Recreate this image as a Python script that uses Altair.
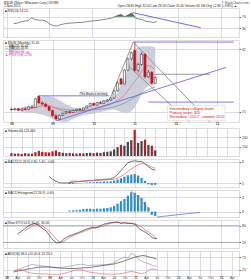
import altair as alt
import pandas as pd

# ---------------- data ----------------
months = ["Jan", "Feb", "Mar", "Apr", "May", "Jun", "Jul", "Aug", "Sep", "Oct", "Nov", "Dec"]
start_year = 8  # '08
n_slots = 66

c_open = [16.2, 15.9, 16.4, 15.6, 16.3, 16.0, 17.2, 17.0, 22.4, 19.2, 18.6, 17.4, 15.6, 13.0, 11.5,
          13.2, 14.2, 14.9, 14.6, 15.6, 16.2, 15.8, 16.8, 17.7, 18.9, 18.1, 19.3, 19.0, 20.1, 20.6,
          21.5, 25.0, 30.8, 28.3, 35.0, 40.4, 44.5, 34.9, 37.7, 42.6, 31.8, 34.0, 28.6]
c_high = [17.0, 16.8, 16.9, 16.6, 17.1, 17.5, 17.9, 21.6, 22.7, 20.0, 19.4, 17.8, 16.0, 14.0, 13.6,
          14.5, 15.2, 15.8, 15.9, 16.5, 16.9, 17.0, 18.0, 19.2, 19.5, 19.6, 20.2, 20.4, 21.0, 22.0,
          25.5, 29.5, 31.5, 35.5, 41.0, 44.0, 48.5, 38.5, 43.5, 43.0, 35.0, 34.5, 32.0]
c_low = [15.3, 15.5, 15.2, 15.1, 15.8, 15.9, 16.6, 16.8, 18.8, 18.0, 17.0, 15.2, 12.5, 10.6, 11.2,
         12.8, 13.8, 14.0, 14.3, 15.1, 15.4, 15.6, 16.5, 17.4, 17.8, 17.9, 18.7, 18.8, 19.6, 20.2,
         21.2, 24.6, 27.6, 28.0, 34.5, 39.5, 34.0, 33.8, 37.0, 30.8, 31.2, 27.6, 28.2]
c_close = [15.9, 16.4, 15.6, 16.3, 16.0, 17.2, 17.0, 21.2, 19.2, 18.6, 17.4, 15.6, 13.0, 11.5, 13.2,
           14.2, 14.9, 14.6, 15.6, 16.2, 15.8, 16.8, 17.7, 18.9, 18.1, 19.3, 19.0, 20.1, 20.6, 21.5,
           25.0, 28.8, 28.3, 35.0, 40.4, 43.4, 34.9, 37.7, 42.6, 31.8, 34.0, 28.6, 31.4]
volume = [30, 25, 28, 22, 30, 26, 24, 40, 55, 45, 40, 38, 50, 60, 42, 35, 30, 33, 28, 26, 30, 28,
          32, 35, 30, 36, 33, 40, 45, 50, 70, 95, 120, 110, 150, 170, 280, 140, 160, 175, 120, 110, 60]

ma_red = [16.0, 16.1, 16.1, 16.2, 16.3, 16.4, 16.6, 16.9, 17.4, 17.8, 18.0, 17.9, 17.4, 16.6, 15.9,
          15.4, 15.0, 14.7, 14.6, 14.7, 14.9, 15.2, 15.6, 16.0, 16.4, 16.8, 17.2, 17.6, 18.0, 18.5,
          19.3, 20.4, 21.5, 23.0, 25.0, 27.5, 29.5, 31.5, 34.5, 36.2, 37.2, 36.6, 35.0]
ma_gray_start = 12
ma_gray = [17.0, 16.8, 16.5, 16.2, 16.0, 15.8, 15.7, 15.6, 15.6, 15.6, 15.7, 15.8, 15.9, 16.0, 16.2,
           16.4, 16.6, 16.9, 17.3, 17.8, 18.4, 19.1, 19.9, 20.8, 21.9, 22.9, 23.9, 24.8, 25.6, 26.3, 26.9]
bb_start = 3
bb_up = [17.5, 17.6, 17.8, 18.2, 18.8, 21.5, 22.3, 22.5, 22.4, 22.0, 21.5, 20.5, 19.5, 18.6, 17.8,
         17.0, 16.6, 16.6, 16.8, 17.3, 18.0, 18.8, 19.5, 19.9, 20.3, 20.7, 21.2, 21.8, 24.0, 28.0,
         31.5, 35.5, 40.5, 44.5, 46.0, 46.5, 46.5, 46.5, 46.3, 46.0]
bb_lo = [14.6, 14.6, 14.5, 14.4, 14.3, 13.8, 13.5, 13.0, 12.3, 11.5, 10.8, 10.2, 10.0, 10.0, 10.6,
         11.4, 12.2, 12.8, 13.2, 13.5, 13.8, 14.0, 14.3, 14.8, 15.2, 15.6, 15.8, 16.0, 15.5, 14.8,
         14.5, 14.5, 15.0, 17.0, 20.0, 23.5, 26.0, 27.5, 28.5, 29.0]

# trendlines on price panel: (slot, price) -> (slot, price)
tl_x1 = [35.6, 8.0, 13.2, 40.0, 28.6, 35.6, 33.5, 41.6]
tl_y1 = [48.5, 22.6, 10.6, 19.6, 20.4, 48.5, 38.0, 33.0]
tl_x2 = [65.0, 28.6, 62.7, 65.0, 35.6, 58.0, 52.0, 58.0]
tl_y2 = [48.5, 22.6, 36.3, 19.6, 48.5, 10.0, 10.0, 33.0]
tl_col = ["#5a5ae6", "#5a5ae6", "#5a5ae6", "#5a5ae6", "#808080", "#808080", "#808080", "#808080"]

rsi_start = 2
rsi = [46, 48, 52, 55, 56, 66, 60, 58, 58, 55, 45, 39, 38, 42, 45, 47, 48, 49, 50, 50, 52, 54, 55,
       57, 58, 60, 62, 64, 68, 74, 78, 70, 76, 83, 66, 62, 60, 54, 52, 50, 53]

macd_start = 11
macd = [2.5, 1.4, 0.7, 0.1, 0.0, 0.0, 0.1, 0.3, 0.5, 0.5, 0.7, 0.85, 1.0, 1.0, 1.2, 1.2, 1.4, 1.4,
        1.6, 2.1, 3.2, 4.7, 6.1, 7.6, 8.1, 8.3, 8.1, 8.1, 7.2, 6.1, 5.2, 4.8]
sig_start = 17
signal = [0.7, 0.7, 0.7, 0.7, 0.75, 0.8, 0.85, 0.9, 1.0, 1.05, 1.1, 1.2, 1.3, 1.4, 1.8, 2.5, 3.3,
          4.3, 5.2, 6.1, 6.8, 7.3, 7.2, 6.6, 6.0, 5.5]
hist1 = [-0.4, -0.3, -0.2, -0.1, 0.1, 0.2, 0.3, 0.3, 0.4, 0.4, 0.5, 0.5, 0.6, 0.9, 1.3, 1.8, 2.4,
         2.9, 3.2, 3.4, 2.8, 1.9, 0.8, -0.5, -0.8, -0.7]
hist2 = [0.3, 0.35, 0.4, 0.5, 0.7, 0.8, 0.8, 0.7, 0.8, 0.8, 0.9, 1.0, 1.2, 1.6, 2.2, 2.9, 3.5, 4.4,
         5.4, 5.2, 4.6, 3.8, 2.7, 1.2, -0.9, -1.2]

stk_start = 3
stoch_k = [50, 58, 68, 78, 84, 88, 80, 70, 62, 45, 28, 18, 20, 32, 40, 45, 50, 55, 60, 66, 70, 74,
           72, 78, 84, 88, 90, 92, 93, 88, 90, 88, 88, 84, 70, 62, 55, 45, 35, 34]
std_start = 5
stoch_d = [60, 68, 76, 83, 84, 78, 70, 58, 45, 30, 22, 24, 32, 40, 46, 51, 56, 61, 66, 70, 72, 75,
           78, 84, 88, 90, 92, 90, 90, 89, 88, 86, 80, 72, 62, 54, 45, 30]

bot_start = 2
bot_dark = [18, 20, 22, 25, 28, 30, 33, 35, 36, 36, 36, 35, 34, 32, 31, 30, 30, 30, 31, 32, 33, 34,
            36, 38, 40, 42, 44, 46, 48, 52, 56, 61, 66, 71, 76, 79, 82, 80, 76, 72, 68]
bot_light = [22, 25, 30, 36, 42, 46, 44, 42, 40, 38, 36, 34, 32, 33, 36, 38, 40, 43, 46, 47, 44, 42,
             44, 43, 44, 45, 46, 48, 54, 62, 70, 76, 72, 92, 80, 66, 58, 52, 48, 40, 40]
bot_red = [14, 22, 25, 20, 14, 11, 10, 9, 8, 8, 7, 7, 7, 7, 10, 14, 18, 22, 25, 24, 20, 16, 14, 12,
           10, 8, 8, 7, 7, 8, 10, 12, 16, 18, 15, 12, 10, 14, 26, 28, 25]

# ---------------- styling ----------------
W = 236
BG = "#dcdcec"
GRID = "#c4c4da"
FONT = "Liberation Sans"
RED = "#d0101a"
BLUE_BAR = "#2a8ed0"

xscale = alt.Scale(domain=[-1, n_slots - 1], nice=False, zero=False)
tick_vals = list(range(0, n_slots, 3))
lab_list = []
for t in tick_vals:
    m = t % 12
    if m == 0:
        lab_list.append("%02d" % (start_year + t // 12))
    else:
        lab_list.append(months[m])
lab_js = "[" + ",".join("'%s'" % s for s in lab_list) + "]"
label_expr = lab_js + "[round(datum.value/3)]"


def xaxis(labels=False):
    if labels:
        return alt.Axis(values=tick_vals, labelExpr=label_expr, labelFontSize=3.0, labelPadding=0.2,
                        ticks=False, domain=False, grid=True, gridColor=GRID, gridWidth=0.6,
                        title=None, labelColor="#333", labelFont=FONT, labelFlush=False,
                        labelOverlap=False,
                        labelFontWeight=alt.condition("round(datum.value) % 12 == 0",
                                                      alt.value("bold"), alt.value("normal")))
    return alt.Axis(values=tick_vals, labels=False, ticks=False, domain=False, grid=True,
                    gridColor=GRID, gridWidth=0.6, title=None)


def yaxis(values, fmt=None):
    kw = dict(orient="right", values=values, labelFontSize=3.4, tickSize=1.5, domain=False,
              grid=True, gridColor=GRID, gridWidth=0.6, title=None, labelPadding=1,
              labelColor="#333", labelFont=FONT, tickColor="#666")
    if fmt:
        kw["format"] = fmt
    return alt.Axis(**kw)


def header(txt, color="#222", x=2, y=1.2):
    return alt.Chart(pd.DataFrame({"t": [txt]})).mark_text(
        align="left", baseline="top", fontSize=3.2, font=FONT, color=color
    ).encode(x=alt.value(x), y=alt.value(y), text="t:N")


# ---------------- RSI panel ----------------
rsi_df = pd.DataFrame({"i": list(range(rsi_start, rsi_start + len(rsi))), "v": rsi})
ry = alt.Scale(domain=[0, 100], nice=False)
rsi_line = alt.Chart(rsi_df).mark_line(color="#555", strokeWidth=0.7).encode(
    x=alt.X("i:Q", scale=xscale, axis=xaxis()),
    y=alt.Y("v:Q", scale=ry, axis=yaxis([30, 70])))
rsi_fill = alt.Chart(rsi_df).transform_calculate(top="max(datum.v, 70)").mark_area(
    color="#2f6e4f", opacity=0.9).encode(
    x=alt.X("i:Q", scale=xscale), y=alt.Y("top:Q", scale=ry), y2=alt.datum(70))
rsi_tl = alt.Chart(pd.DataFrame({"a": [35.3], "b": [84], "c": [54.3], "d": [32]})).mark_rule(
    color="#5a5ae6", strokeWidth=0.9).encode(
    x=alt.X("a:Q", scale=xscale), y=alt.Y("b:Q", scale=ry), x2="c:Q", y2="d:Q")
title1 = alt.Chart(pd.DataFrame({"t": ["$SLW (Silver Wheaton Corp.) NYSE"]})).mark_text(
    align="left", baseline="bottom", fontSize=3.4, font=FONT, color="#222").encode(
    x=alt.value(1), y=alt.value(-3.0), text="t:N")
title2 = alt.Chart(pd.DataFrame({"t": ["1-Nov-2011"]})).mark_text(
    align="left", baseline="bottom", fontSize=3.2, font=FONT, color="#222").encode(
    x=alt.value(1), y=alt.value(-0.3), text="t:N")
title3 = alt.Chart(pd.DataFrame({"t": ["© StockCharts.com"]})).mark_text(
    align="right", baseline="bottom", fontSize=3.2, font=FONT, color="#444").encode(
    x=alt.value(W + 10), y=alt.value(-3.0), text="t:N")
title4 = alt.Chart(pd.DataFrame({"t": ["Open 28.60 High 32.00 Low 28.20 Close 31.40 Volume 60.1M Chg +2.80 (+9.8%) ▲"]})).mark_text(
    align="right", baseline="bottom", fontSize=3.2, font=FONT, color="#222").encode(
    x=alt.value(W - 2), y=alt.value(-0.3), text="t:N")
rsi_panel = alt.layer(rsi_fill, rsi_line, rsi_tl, header("■ RSI(14) 53.10"),
                      title1, title2, title3, title4).properties(width=W, height=29)

# ---------------- price panel ----------------
n = len(c_close)
cdf = pd.DataFrame({"i": list(range(n)), "o": c_open, "h": c_high, "l": c_low, "c": c_close})
cdf["dn"] = cdf["c"] < cdf["o"]
py = alt.Scale(domain=[10, 49.5], nice=False, zero=False)
px = alt.X("i:Q", scale=xscale, axis=xaxis(labels=True))
bb_df = pd.DataFrame({"i": list(range(bb_start, bb_start + len(bb_up))), "u": bb_up, "lo": bb_lo})
band = alt.Chart(bb_df).mark_area(color="#c2c8d6", opacity=0.85).encode(
    x=px, y=alt.Y("u:Q", scale=py, axis=yaxis([15, 20, 25, 30, 35, 40, 45])), y2="lo:Q")
mag_df = pd.DataFrame({"i": list(range(ma_gray_start, ma_gray_start + len(ma_gray))), "v": ma_gray})
ma_gray_line = alt.Chart(mag_df).mark_line(color="#8a8a8a", strokeWidth=0.7).encode(
    x=px, y=alt.Y("v:Q", scale=py))
mar_df = pd.DataFrame({"i": list(range(len(ma_red))), "v": ma_red})
ma_red_line = alt.Chart(mar_df).mark_line(color="#e07070", strokeWidth=0.7).encode(
    x=px, y=alt.Y("v:Q", scale=py))
tl_df = pd.DataFrame({"a": tl_x1, "b": tl_y1, "c": tl_x2, "d": tl_y2, "col": tl_col})
tls = alt.Chart(tl_df).mark_rule(strokeWidth=0.8, clip=True).encode(
    x=alt.X("a:Q", scale=xscale), y=alt.Y("b:Q", scale=py), x2="c:Q", y2="d:Q",
    color=alt.Color("col:N", scale=None))
wick = alt.Chart(cdf).mark_rule(strokeWidth=0.6).encode(
    x=px, y=alt.Y("l:Q", scale=py), y2="h:Q",
    color=alt.condition("datum.dn", alt.value(RED), alt.value("#222")))
body = alt.Chart(cdf).mark_bar(size=2.2, strokeWidth=0.5).encode(
    x=px, y=alt.Y("o:Q", scale=py), y2="c:Q",
    fill=alt.condition("datum.dn", alt.value(RED), alt.value("#f4f4fa")),
    stroke=alt.condition("datum.dn", alt.value(RED), alt.value("#222")))
box_df = pd.DataFrame({"a": [45.6], "b": [17.8], "c": [62.4], "d": [10.6]})
tbox = alt.Chart(box_df).mark_rect(fill="white", stroke="#bbb", strokeWidth=0.4).encode(
    x=alt.X("a:Q", scale=xscale), y=alt.Y("b:Q", scale=py), x2="c:Q", y2="d:Q")
note_lines = ["Intermediary collapse levels", "Primary target: $20", "Secondary - 15/17 - summer 2012"]
note_df = pd.DataFrame({"i": [46.2] * 3, "p": [16.4, 14.3, 12.2], "t": note_lines})
note = alt.Chart(note_df).mark_text(align="left", baseline="middle", fontSize=3.6, font=FONT,
                                    color=RED).encode(
    x=alt.X("i:Q", scale=xscale), y=alt.Y("p:Q", scale=py), text="t:N")
lbl_df = pd.DataFrame({"a": [20.0], "b": [24.4], "c": [28.0], "d": [22.9]})
lbox = alt.Chart(lbl_df).mark_rect(fill="white", stroke="#88a", strokeWidth=0.4).encode(
    x=alt.X("a:Q", scale=xscale), y=alt.Y("b:Q", scale=py), x2="c:Q", y2="d:Q")
ltxt = alt.Chart(pd.DataFrame({"i": [24.0], "p": [23.65], "t": ["The Bounce territory"]})).mark_text(
    align="center", baseline="middle", fontSize=3.0, font=FONT, color="#224").encode(
    x=alt.X("i:Q", scale=xscale), y=alt.Y("p:Q", scale=py), text="t:N")
leg = [("■ $SLW (Monthly) 31.40", "#222"), ("— MA(20) 35.02", "#222"), ("— MA(50) 26.90", "#222"),
       ("— BB(20,2.0)", "#d04040"), ("— Volume 60.1M", "#d040d0"), ("▲ Price Chg +2.80", "#d040d0")]
legend_layers = [header(t, c, 2, 1.2 + 2.4 * k) for k, (t, c) in enumerate(leg)]
price_panel = alt.layer(band, ma_gray_line, ma_red_line, tls, wick, body, tbox, note, lbox, ltxt,
                        *legend_layers).properties(width=W, height=82)

# ---------------- volume panel ----------------
vdf = pd.DataFrame({"i": list(range(n)), "v": volume, "dn": cdf["dn"]})
vol = alt.Chart(vdf).mark_bar(size=2.2).encode(
    x=alt.X("i:Q", scale=xscale, axis=xaxis()),
    y=alt.Y("v:Q", scale=alt.Scale(domain=[0, 300], nice=False),
            axis=yaxis([100, 200], fmt="d")),
    color=alt.condition("datum.dn", alt.value(RED), alt.value("#444")))
vol_panel = alt.layer(vol, header("■ Volume 60,123,400")).properties(width=W, height=28)

# ---------------- MACD panel ----------------
my = alt.Scale(domain=[-1.5, 9.0], nice=False)
mdf = pd.DataFrame({"i": list(range(macd_start, macd_start + len(macd))), "v": macd})
sdf = pd.DataFrame({"i": list(range(sig_start, sig_start + len(signal))), "v": signal, "h": hist1})
mh = alt.Chart(sdf).mark_bar(size=2.2, color=BLUE_BAR).encode(
    x=alt.X("i:Q", scale=xscale, axis=xaxis()), y=alt.Y("h:Q", scale=my, axis=yaxis([0, 4, 8])),
    y2=alt.datum(0))
ml = alt.Chart(mdf).mark_line(color="#333", strokeWidth=0.7).encode(
    x=alt.X("i:Q", scale=xscale), y=alt.Y("v:Q", scale=my))
sl = alt.Chart(sdf).mark_line(color="#e06060", strokeWidth=0.7).encode(
    x=alt.X("i:Q", scale=xscale), y=alt.Y("v:Q", scale=my))
macd_panel = alt.layer(mh, ml, sl, header("■ MACD(12,26,9) 4.80, 5.40, -0.60")).properties(
    width=W, height=28)

# ---------------- histogram panel ----------------
hy = alt.Scale(domain=[-1.5, 6.0], nice=False)
h2df = pd.DataFrame({"i": list(range(sig_start, sig_start + len(hist2))), "h": hist2})
hb = alt.Chart(h2df).mark_bar(size=2.2, color=BLUE_BAR).encode(
    x=alt.X("i:Q", scale=xscale, axis=xaxis()), y=alt.Y("h:Q", scale=hy, axis=yaxis([0, 2, 4])),
    y2=alt.datum(0))
h_tl = alt.Chart(pd.DataFrame({"a": [34.8, 42.5], "b": [6.0, -1.5], "c": [40.5, 55.0],
                               "d": [0.5, -0.2], "col": ["#e06060", "#4a6ad0"]})).mark_rule(
    strokeWidth=0.7).encode(x=alt.X("a:Q", scale=xscale), y=alt.Y("b:Q", scale=hy), x2="c:Q",
                            y2="d:Q", color=alt.Color("col:N", scale=None))
hist_panel = alt.layer(hb, h_tl, header("■ MACD Histogram(12,26,9) -0.60")).properties(
    width=W, height=27)

# ---------------- stochastic panel ----------------
sy = alt.Scale(domain=[0, 100], nice=False)
kdf = pd.DataFrame({"i": list(range(stk_start, stk_start + len(stoch_k))), "v": stoch_k})
ddf = pd.DataFrame({"i": list(range(std_start, std_start + len(stoch_d))), "v": stoch_d})
kl = alt.Chart(kdf).mark_line(color="#333", strokeWidth=0.7).encode(
    x=alt.X("i:Q", scale=xscale, axis=xaxis()), y=alt.Y("v:Q", scale=sy, axis=yaxis([20, 50, 80])))
dl = alt.Chart(ddf).mark_line(color="#e06060", strokeWidth=0.7).encode(
    x=alt.X("i:Q", scale=xscale), y=alt.Y("v:Q", scale=sy))
lv = alt.Chart(pd.DataFrame({"v": [20, 80]})).mark_rule(color="#888", strokeWidth=0.6).encode(
    y=alt.Y("v:Q", scale=sy))
stoch_panel = alt.layer(lv, dl, kl, header("■ Slow STO(14,3) 34.00, 30.00")).properties(
    width=W, height=28)

# ---------------- bottom panel ----------------
by = alt.Scale(domain=[0, 100], nice=False)
bdf = pd.DataFrame({"i": list(range(bot_start, bot_start + len(bot_dark))),
                    "a": bot_dark, "b": bot_light, "c": bot_red})
bx = alt.X("i:Q", scale=xscale, axis=xaxis(labels=True))
b1 = alt.Chart(bdf).mark_line(color="#999", strokeWidth=0.7).encode(
    x=bx, y=alt.Y("b:Q", scale=by, axis=yaxis([25, 50, 75])))
b2 = alt.Chart(bdf).mark_line(color="#444", strokeWidth=0.7).encode(x=bx, y=alt.Y("a:Q", scale=by))
b3 = alt.Chart(bdf).mark_line(color="#e07070", strokeWidth=0.7).encode(x=bx, y=alt.Y("c:Q", scale=by))
bot_panel = alt.layer(b1, b2, b3, header("■ ADX(14) 68.0 +DI 40.0 -DI 25.0")).properties(
    width=W, height=25)

chart = alt.vconcat(rsi_panel, price_panel, vol_panel, macd_panel, hist_panel, stoch_panel,
                    bot_panel, spacing=1).resolve_scale(y="independent").configure_view(
    fill=BG, stroke="#9a9ab0", strokeWidth=0.6).configure(
    padding={"left": 2, "top": 0, "right": 0, "bottom": 0}, background="white")

chart.save("out.html", embed_options={"renderer": "svg", "actions": False})
